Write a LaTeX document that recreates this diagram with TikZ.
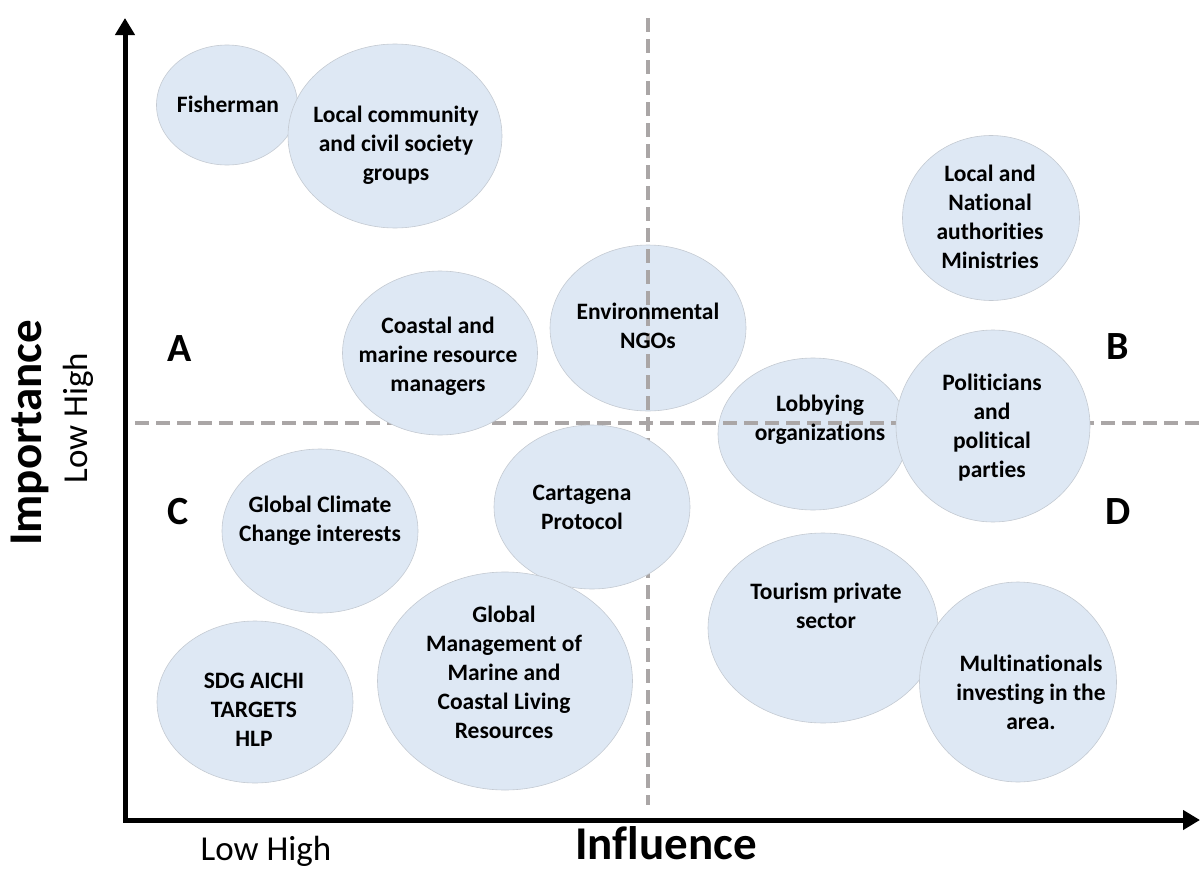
\documentclass[tikz,border=0pt]{standalone}
\usepackage{fontspec}
\setmainfont{Carlito}[Ligatures=NoCommon]
\usetikzlibrary{shapes.geometric,arrows.meta}
\definecolor{bubble}{HTML}{DEE8F4}
\definecolor{bubbleedge}{HTML}{C4CAD2}
\definecolor{dashgray}{HTML}{AAA6A6}
\begin{document}
\begin{tikzpicture}[x=1pt,y=-1pt,
  bub/.style args={#1/#2}{ellipse,fill=bubble,draw=bubbleedge,line width=0.6pt,
     minimum width=#1pt,minimum height=#2pt,inner sep=0pt},
  lab/.style={font=\bfseries\fontsize{23.5}{29}\selectfont,align=center,inner sep=0pt},
  quad/.style={font=\bfseries\fontsize{40}{44}\selectfont,inner sep=0pt},
  axlab/.style={font=\bfseries\fontsize{47}{50}\selectfont,inner sep=0pt},
  scalelab/.style={font=\fontsize{35}{38}\selectfont,inner sep=0pt},
  quadline/.style={draw=dashgray,line width=4pt,dash pattern=on 14pt off 7pt},
  axis/.style={line width=5pt,line join=miter,{Triangle[length=17pt,width=19pt]}-{Triangle[length=17pt,width=19pt]}}]
\useasboundingbox (0,0) rectangle (1200,870);

% bubbles lying under the quadrant lines
\node[bub=196/166] (ngoE) at (648,328) {};
\node[bub=190/152] (lobE) at (813,434) {};

% quadrant lines
\coordinate (vtop) at (648,18);
\coordinate (vbot) at (648,805);
\coordinate (hleft) at (135,423);
\coordinate (hright) at (1200,423);
\draw[quadline] (vtop) -- (vbot);
\draw[quadline] (hleft) -- (hright);

% bubbles above the quadrant lines
\node[bub=141/120] (fishE) at (227,105) {};
\node[bub=214/184] (commE) at (395,136) {};
\node[bub=177/165] (authE) at (991,218) {};
\node[bub=195/164] (coastE) at (440,353) {};
\node[bub=194/192] (polE) at (993,426) {};
\node[bub=196/164] (climE) at (320,531) {};
\node[bub=196/164] (cartE) at (592,507) {};
\node[bub=230/190] (tourE) at (823,628) {};
\node[bub=197/200] (multE) at (1018,682) {};
\node[bub=196/162] (sdgE) at (255,702) {};
\node[bub=255/218] (gmE) at (505,681) {};

% bubble texts
\node[lab] (fishT) at (228,104) {Fisherman};
\node[lab] (commT) at (396,145) {Local community\\and civil society\\groups};
\node[lab] (authT) at (990,217) {Local and\\National\\authorities\\Ministries};
\node[lab] (coastT) at (438,356) {Coastal and\\marine resource\\managers};
\node[lab] (ngoT) at (648,326) {Environmental\\NGOs};
\node[lab] (lobT) at (820,420) {Lobbying\\organizations};
\node[lab] (polT) at (992,428) {Politicians\\and\\political\\parties};
\node[lab] (climT) at (320,521) {Global Climate\\Change interests};
\node[lab] (cartT) at (582,507) {Cartagena\\Protocol};
\node[lab] (tourT) at (826,606) {Tourism private\\sector};
\node[lab] (multT) at (1031,692) {Multinationals\\investing in the\\area.};
\node[lab] (sdgT) at (254,710) {SDG AICHI\\TARGETS\\HLP};
\node[lab] (gmT) at (504,672) {Global\\Management of\\Marine and\\Coastal Living\\Resources};

% quadrant letters
\node[quad] (qA) at (180,349) {A};
\node[quad] (qB) at (1118,347) {B};
\node[quad] (qC) at (178,512) {C};
\node[quad] (qD) at (1118,512) {D};

% axes
\coordinate (ytop) at (125,18);
\coordinate (origin) at (125,820);
\coordinate (xend) at (1200,820);
\draw[axis] (ytop) -- (origin) -- (xend);

% axis labels
\node[axlab,rotate=90] (imp) at (30,433) {Importance};
\node[scalelab,rotate=90] (impsc) at (78,418) {Low High};
\node[axlab] (infl) at (666,843) {Influence};
\node[scalelab] (inflsc) at (266,851) {Low High};
\end{tikzpicture}
\end{document}
